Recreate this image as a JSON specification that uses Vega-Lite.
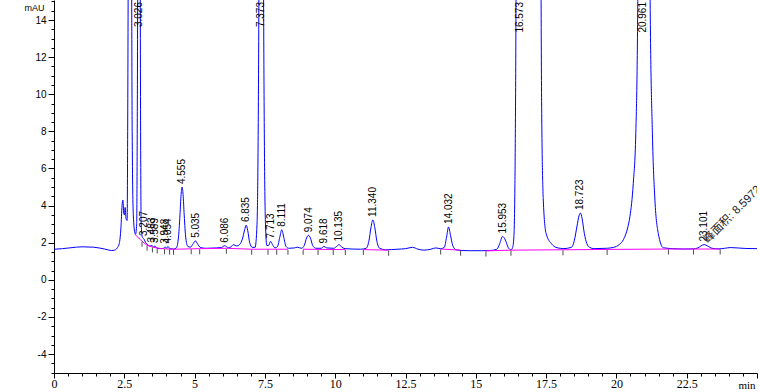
{
  "$schema": "https://vega.github.io/schema/vega-lite/v6.json",
  "width": 703,
  "height": 373,
  "autosize": {"type": "none"},
  "padding": {"left": 54, "top": 0, "right": 3, "bottom": 19},
  "background": "white",
  "config": {
    "view": {"stroke": null},
    "font": "Liberation Sans",
    "axis": {"grid": false, "domainColor": "black", "tickColor": "black", "labelColor": "black", "titleColor": "black", "domainWidth": 1, "tickWidth": 1, "labelOverlap": false, "labelBound": false, "labelFlush": false}
  },
  "datasets": {
    "curve": [
      {"t": 0, "v": 1.65}, {"t": 0.3, "v": 1.68}, {"t": 0.6, "v": 1.73}, {"t": 1.0, "v": 1.78}, {"t": 1.4, "v": 1.76}, {"t": 1.8, "v": 1.66}, {"t": 2.05, "v": 1.58}, {"t": 2.15, "v": 1.6}, {"t": 2.25, "v": 1.72}, {"t": 2.32, "v": 1.95}, {"t": 2.38, "v": 2.8}, {"t": 2.42, "v": 4.0}, {"t": 2.45, "v": 4.3}, {"t": 2.48, "v": 3.6}, {"t": 2.5, "v": 3.5}, {"t": 2.53, "v": 3.9}, {"t": 2.56, "v": 3.3}, {"t": 2.6, "v": 3.2},
      {"t": 2.62, "v": 8}, {"t": 2.645, "v": 20}, {"t": 2.7, "v": 60}, {"t": 2.755, "v": 20}, {"t": 2.78, "v": 8}, {"t": 2.82, "v": 3.5}, {"t": 2.88, "v": 2.5}, {"t": 2.9, "v": 2.45}, {"t": 2.94, "v": 3.0}, {"t": 2.965, "v": 10}, {"t": 2.985, "v": 20}, {"t": 3.03, "v": 30}, {"t": 3.06, "v": 20}, {"t": 3.08, "v": 8}, {"t": 3.1, "v": 3.0}, {"t": 3.14, "v": 2.3},
      {"t": 3.2, "v": 2.2}, {"t": 3.26, "v": 2.0}, {"t": 3.33, "v": 1.9}, {"t": 3.41, "v": 1.82}, {"t": 3.48, "v": 1.85}, {"t": 3.54, "v": 1.78}, {"t": 3.59, "v": 1.82}, {"t": 3.66, "v": 1.72}, {"t": 3.8, "v": 1.68}, {"t": 3.9, "v": 1.7}, {"t": 3.95, "v": 1.78}, {"t": 4.0, "v": 1.7}, {"t": 4.05, "v": 1.8}, {"t": 4.12, "v": 1.68}, {"t": 4.25, "v": 1.66},
      {"t": 4.35, "v": 1.72}, {"t": 4.42, "v": 2.2}, {"t": 4.48, "v": 3.5}, {"t": 4.52, "v": 4.6}, {"t": 4.555, "v": 5.0}, {"t": 4.59, "v": 4.6}, {"t": 4.63, "v": 3.5}, {"t": 4.69, "v": 2.2}, {"t": 4.76, "v": 1.8}, {"t": 4.85, "v": 1.76}, {"t": 4.95, "v": 1.95}, {"t": 5.03, "v": 2.1}, {"t": 5.1, "v": 1.95}, {"t": 5.2, "v": 1.75}, {"t": 5.4, "v": 1.7}, {"t": 5.77, "v": 1.72}, {"t": 5.95, "v": 1.74}, {"t": 6.07, "v": 1.84}, {"t": 6.2, "v": 1.73}, {"t": 6.3, "v": 1.78}, {"t": 6.38, "v": 1.9}, {"t": 6.5, "v": 1.82}, {"t": 6.6, "v": 1.9}, {"t": 6.7, "v": 2.2}, {"t": 6.78, "v": 2.7}, {"t": 6.835, "v": 2.95}, {"t": 6.89, "v": 2.65}, {"t": 6.96, "v": 2.0}, {"t": 7.05, "v": 1.75},
      {"t": 7.15, "v": 1.75}, {"t": 7.22, "v": 3.0}, {"t": 7.27, "v": 10}, {"t": 7.3, "v": 20}, {"t": 7.375, "v": 40}, {"t": 7.44, "v": 20}, {"t": 7.47, "v": 10}, {"t": 7.52, "v": 3}, {"t": 7.57, "v": 1.85}, {"t": 7.63, "v": 1.85}, {"t": 7.7, "v": 2.07}, {"t": 7.77, "v": 1.9}, {"t": 7.86, "v": 1.72}, {"t": 7.95, "v": 1.8}, {"t": 8.03, "v": 2.3}, {"t": 8.1, "v": 2.7}, {"t": 8.17, "v": 2.3}, {"t": 8.25, "v": 1.8}, {"t": 8.35, "v": 1.7}, {"t": 8.55, "v": 1.72}, {"t": 8.65, "v": 1.76}, {"t": 8.8, "v": 1.7}, {"t": 8.9, "v": 1.85}, {"t": 8.98, "v": 2.25}, {"t": 9.05, "v": 2.4}, {"t": 9.12, "v": 2.25}, {"t": 9.2, "v": 1.85}, {"t": 9.32, "v": 1.7}, {"t": 9.5, "v": 1.7}, {"t": 9.6, "v": 1.8}, {"t": 9.7, "v": 1.72}, {"t": 9.95, "v": 1.7}, {"t": 10.05, "v": 1.8}, {"t": 10.14, "v": 1.9}, {"t": 10.22, "v": 1.78}, {"t": 10.35, "v": 1.68}, {"t": 10.6, "v": 1.66}, {"t": 10.9, "v": 1.65},
      {"t": 11.1, "v": 1.7}, {"t": 11.2, "v": 2.1}, {"t": 11.27, "v": 2.8}, {"t": 11.34, "v": 3.23}, {"t": 11.41, "v": 2.8}, {"t": 11.48, "v": 2.1}, {"t": 11.58, "v": 1.7}, {"t": 11.8, "v": 1.62}, {"t": 12.2, "v": 1.65}, {"t": 12.5, "v": 1.68}, {"t": 12.75, "v": 1.75}, {"t": 12.95, "v": 1.65}, {"t": 13.15, "v": 1.6}, {"t": 13.4, "v": 1.65}, {"t": 13.57, "v": 1.72}, {"t": 13.75, "v": 1.68}, {"t": 13.88, "v": 1.75}, {"t": 13.96, "v": 2.3}, {"t": 14.03, "v": 2.85}, {"t": 14.1, "v": 2.4}, {"t": 14.18, "v": 1.85}, {"t": 14.3, "v": 1.62}, {"t": 14.5, "v": 1.58}, {"t": 14.8, "v": 1.57}, {"t": 15.2, "v": 1.57}, {"t": 15.5, "v": 1.58}, {"t": 15.75, "v": 1.65}, {"t": 15.85, "v": 1.95}, {"t": 15.95, "v": 2.34}, {"t": 16.05, "v": 2.15}, {"t": 16.15, "v": 1.75}, {"t": 16.25, "v": 1.62}, {"t": 16.3, "v": 1.7},
      {"t": 16.35, "v": 2.2}, {"t": 16.39, "v": 5}, {"t": 16.43, "v": 15}, {"t": 16.5, "v": 60}, {"t": 16.9, "v": 500}, {"t": 17.25, "v": 60}, {"t": 17.32, "v": 16}, {"t": 17.34, "v": 9.6}, {"t": 17.4, "v": 4.3}, {"t": 17.5, "v": 2.5}, {"t": 17.7, "v": 1.93}, {"t": 17.85, "v": 1.75}, {"t": 18.0, "v": 1.7},
      {"t": 18.1, "v": 1.68}, {"t": 18.4, "v": 1.75}, {"t": 18.5, "v": 2.1}, {"t": 18.6, "v": 2.9}, {"t": 18.67, "v": 3.45}, {"t": 18.72, "v": 3.6}, {"t": 18.78, "v": 3.3}, {"t": 18.86, "v": 2.5}, {"t": 18.95, "v": 1.95}, {"t": 19.05, "v": 1.75}, {"t": 19.2, "v": 1.68},
      {"t": 19.65, "v": 1.7}, {"t": 19.9, "v": 1.75}, {"t": 20.1, "v": 1.9}, {"t": 20.25, "v": 2.17}, {"t": 20.4, "v": 2.8}, {"t": 20.48, "v": 3.4}, {"t": 20.6, "v": 5.2}, {"t": 20.69, "v": 7.9}, {"t": 20.76, "v": 15}, {"t": 20.85, "v": 60}, {"t": 21.0, "v": 300}, {"t": 21.12, "v": 60}, {"t": 21.2, "v": 15}, {"t": 21.28, "v": 7.9}, {"t": 21.37, "v": 4.3}, {"t": 21.49, "v": 2.5}, {"t": 21.67, "v": 1.73},
      {"t": 22.0, "v": 1.68}, {"t": 22.4, "v": 1.66}, {"t": 22.73, "v": 1.67}, {"t": 22.9, "v": 1.72}, {"t": 23.0, "v": 1.82}, {"t": 23.12, "v": 1.9}, {"t": 23.25, "v": 1.82}, {"t": 23.4, "v": 1.7}, {"t": 23.64, "v": 1.67}, {"t": 23.85, "v": 1.7}, {"t": 24.05, "v": 1.74}, {"t": 24.3, "v": 1.72}, {"t": 24.6, "v": 1.69}, {"t": 25.0, "v": 1.68}
    ],
    "baseline": [
      {"seg": 1, "t": 2.88, "v": 2.45}, {"seg": 1, "t": 3.13, "v": 2.08}, {"seg": 1, "t": 3.31, "v": 1.86}, {"seg": 1, "t": 3.5, "v": 1.77}, {"seg": 1, "t": 3.67, "v": 1.71}, {"seg": 1, "t": 3.93, "v": 1.67}, {"seg": 1, "t": 4.25, "v": 1.65}, {"seg": 1, "t": 4.88, "v": 1.67}, {"seg": 1, "t": 5.18, "v": 1.68}, {"seg": 1, "t": 6.13, "v": 1.7}, {"seg": 1, "t": 7.03, "v": 1.65}, {"seg": 1, "t": 7.61, "v": 1.65}, {"seg": 1, "t": 8.32, "v": 1.65},
      {"seg": 2, "t": 8.86, "v": 1.65}, {"seg": 2, "t": 10.36, "v": 1.63},
      {"seg": 3, "t": 11.0, "v": 1.63}, {"seg": 3, "t": 11.9, "v": 1.6},
      {"seg": 4, "t": 13.75, "v": 1.66}, {"seg": 4, "t": 14.46, "v": 1.6},
      {"seg": 5, "t": 15.36, "v": 1.56}, {"seg": 5, "t": 16.25, "v": 1.6}, {"seg": 5, "t": 18.1, "v": 1.62}, {"seg": 5, "t": 19.67, "v": 1.64}, {"seg": 5, "t": 21.85, "v": 1.66}, {"seg": 5, "t": 23.69, "v": 1.66}
    ],
    "events": [
      {"t": 3.13, "v": 2.08}, {"t": 3.31, "v": 1.86}, {"t": 3.5, "v": 1.77}, {"t": 3.67, "v": 1.71}, {"t": 3.93, "v": 1.67}, {"t": 4.11, "v": 1.66}, {"t": 4.25, "v": 1.65}, {"t": 4.88, "v": 1.67}, {"t": 5.18, "v": 1.68}, {"t": 6.13, "v": 1.7}, {"t": 7.03, "v": 1.65}, {"t": 7.61, "v": 1.65}, {"t": 7.92, "v": 1.65}, {"t": 8.32, "v": 1.65}, {"t": 8.86, "v": 1.65}, {"t": 9.39, "v": 1.64}, {"t": 9.93, "v": 1.64}, {"t": 10.36, "v": 1.63}, {"t": 11.0, "v": 1.63}, {"t": 11.9, "v": 1.6}, {"t": 13.75, "v": 1.66}, {"t": 14.46, "v": 1.6}, {"t": 15.36, "v": 1.56}, {"t": 16.25, "v": 1.6}, {"t": 18.1, "v": 1.62}, {"t": 19.67, "v": 1.64}, {"t": 21.85, "v": 1.66}, {"t": 22.74, "v": 1.66}, {"t": 23.69, "v": 1.66}
    ],
    "peaks": [
      {"t": 3.207, "v": 2.2, "label": "3.207"}, {"t": 3.483, "v": 1.85, "label": "3.483"}, {"t": 3.589, "v": 1.82, "label": "3.589"}, {"t": 3.948, "v": 1.78, "label": "3.948"}, {"t": 4.054, "v": 1.8, "label": "4.054"}, {"t": 4.555, "v": 5.0, "label": "4.555"}, {"t": 5.035, "v": 2.1, "label": "5.035"}, {"t": 6.086, "v": 1.84, "label": "6.086"}, {"t": 6.835, "v": 2.95, "label": "6.835"}, {"t": 7.713, "v": 2.07, "label": "7.713"}, {"t": 8.111, "v": 2.7, "label": "8.111"}, {"t": 9.074, "v": 2.4, "label": "9.074"}, {"t": 9.618, "v": 1.8, "label": "9.618"}, {"t": 10.135, "v": 1.9, "label": "10.135"}, {"t": 11.34, "v": 3.23, "label": "11.340"}, {"t": 14.032, "v": 2.85, "label": "14.032"}, {"t": 15.953, "v": 2.34, "label": "15.953"}, {"t": 18.723, "v": 3.6, "label": "18.723"}, {"t": 23.101, "v": 1.9, "label": "23.101"}
    ],
    "toppeaks": [
      {"t": 3.026, "v": 30, "label": "3.026"}, {"t": 7.373, "v": 40, "label": "7.373"}, {"t": 16.573, "v": 500, "label": "16.573"}, {"t": 20.961, "v": 300, "label": "20.961"}
    ],
    "notes": [
      {"t": 23.101, "v": 1.95, "label": "峰面积: 8.5972"}
    ]
  },
  "encoding": {
    "x": {
      "field": "t", "type": "quantitative", "title": "min",
      "scale": {"domain": [0, 25], "nice": false, "zero": false},
      "axis": {
        "values": [0,0.5,1,1.5,2,2.5,3,3.5,4,4.5,5,5.5,6,6.5,7,7.5,8,8.5,9,9.5,10,10.5,11,11.5,12,12.5,13,13.5,14,14.5,15,15.5,16,16.5,17,17.5,18,18.5,19,19.5,20,20.5,21,21.5,22,22.5,23,23.5,24,24.5,25],
        "labelExpr": "datum.value % 2.5 === 0 && datum.value < 25 ? '' + datum.value : ''",
        "tickSize": {"expr": "datum.value % 2.5 === 0 ? 5 : 3"},
        "labelFont": "Liberation Sans Narrow", "labelFontSize": 12, "labelPadding": 0,
        "titleFont": "Liberation Sans Narrow", "titleFontSize": 11, "titleFontWeight": "normal",
        "titleAnchor": "end", "titleAlign": "right", "titleX": 701, "titleY": 15, "titleBaseline": "alphabetic"
      }
    },
    "y": {
      "field": "v", "type": "quantitative", "title": "mAU",
      "scale": {"domain": [-5.02, 15.08], "nice": false, "zero": false},
      "axis": {
        "values": [-5,-4.5,-4,-3.5,-3,-2.5,-2,-1.5,-1,-0.5,0,0.5,1,1.5,2,2.5,3,3.5,4,4.5,5,5.5,6,6.5,7,7.5,8,8.5,9,9.5,10,10.5,11,11.5,12,12.5,13,13.5,14,14.5,15],
        "labelExpr": "datum.value % 2 === 0 ? '' + datum.value : ''",
        "tickSize": {"expr": "datum.value % 2 === 0 ? 6 : 3"},
        "labelFontSize": 10, "labelPadding": 2,
        "titleAngle": 0, "titleFontSize": 9, "titleFontWeight": "normal", "titleAlign": "center", "titleBaseline": "alphabetic", "titleX": -20, "titleY": 10
      }
    }
  },
  "layer": [
    {
      "data": {"name": "curve"},
      "mark": {"type": "line", "color": "#0000ff", "strokeWidth": 1, "clip": true, "interpolate": "monotone"}
    },
    {
      "data": {"name": "baseline"},
      "mark": {"type": "line", "color": "#ff00ff", "strokeWidth": 1, "clip": true},
      "encoding": {"detail": {"field": "seg", "type": "nominal"}}
    },
    {
      "data": {"name": "events"},
      "mark": {"type": "tick", "orient": "vertical", "color": "black", "size": 5, "thickness": 1, "yOffset": 3}
    },
    {
      "data": {"name": "peaks"},
      "mark": {"type": "text", "angle": 270, "align": "left", "baseline": "middle", "dx": 3, "fontSize": 10, "font": "Liberation Sans", "color": "black"},
      "encoding": {"text": {"field": "label", "type": "nominal"}}
    },
    {
      "data": {"name": "toppeaks"},
      "mark": {"type": "text", "angle": 270, "align": "right", "baseline": "middle", "dx": -2, "fontSize": 10, "font": "Liberation Sans", "color": "black"},
      "encoding": {"y": {"datum": 15.08, "type": "quantitative"}, "text": {"field": "label", "type": "nominal"}}
    },
    {
      "data": {"name": "notes"},
      "mark": {"type": "text", "angle": 315, "align": "left", "baseline": "middle", "dx": 3, "fontSize": 11.5, "font": "Liberation Sans, Noto Sans CJK SC", "color": "#222222", "clip": true},
      "encoding": {"text": {"field": "label", "type": "nominal"}}
    },
    {
      "data": {"values": [{}]},
      "mark": {"type": "rule", "color": "black", "strokeWidth": 2},
      "encoding": {"x": {"datum": 25, "type": "quantitative"}, "y": null}
    }
  ]
}
